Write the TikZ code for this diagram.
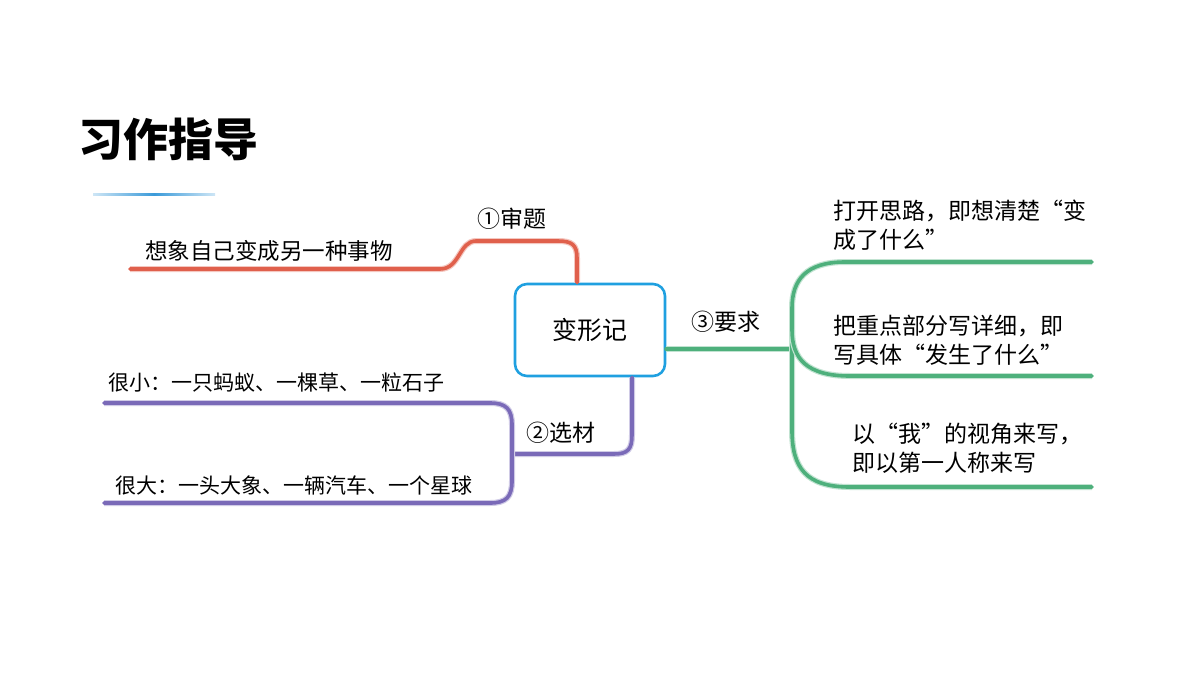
\documentclass[tikz,border=0pt]{standalone}
\usepackage{fontspec}
\setmainfont{Noto Sans CJK SC}
\usetikzlibrary{calc}
\definecolor{redb}{HTML}{E0604C}
\definecolor{purb}{HTML}{7A6AB8}
\definecolor{grnb}{HTML}{4EB07C}
\definecolor{nodeb}{HTML}{1FA0E0}
\definecolor{ttl}{HTML}{3A9AD9}
\tikzset{
  redl/.style={draw=redb, line width=3.6pt, line cap=round, preaction={draw=redb!35, line width=6pt}},
  purl/.style={draw=purb, line width=3.6pt, line cap=round, preaction={draw=purb!35, line width=6pt}},
  grnl/.style={draw=grnb, line width=3.6pt, line cap=round, preaction={draw=grnb!35, line width=6pt}},
  lbl/.style={inner sep=0pt, font=\fontsize{23}{27}\selectfont},
  txt/.style={inner sep=0pt, anchor=west, font=\fontsize{21}{25}\selectfont},
  rtxt/.style={inner sep=0pt, anchor=west, align=left, font=\fontsize{23}{28.5}\selectfont},
}
\begin{document}
\begin{tikzpicture}[x=1pt,y=-1pt]
\useasboundingbox (0,0) rectangle (1200,675);
% title
\node[inner sep=0pt, anchor=west, font=\fontsize{45}{50}\selectfont\bfseries] (title) at (78,139) {习作指导};
\shade[left color=ttl!25, right color=ttl!25, middle color=ttl] (93,193.8) rectangle (215,195.8);
% central node
\node[draw=nodeb, line width=2.6pt, rounded corners=12pt, minimum width=150pt, minimum height=92pt, inner sep=0pt, font=\fontsize{25}{30}\selectfont] (c) at (590,330) {变形记};
% red branch
\coordinate (r0) at ($(c.north)+(-13,0)$);
\coordinate (rend) at (130,269);
\draw[redl] (r0) -- (577,258) .. controls (577,245) and (572,241) .. (558,241) -- (476,241) .. controls (459,241) and (460,269) .. (440,269) -- (rend);
\node[lbl] (l1) at (512,219) {①审题};
\node[txt, font=\fontsize{22.5}{26}\selectfont] (t1) at (145,251) {想象自己变成另一种事物};
% purple branch
\coordinate (p0) at ($(c.south)+(42,0)$);
\coordinate (pj) at (512,454);
\coordinate (pt) at (104,403);
\coordinate (pb) at (104,503);
\draw[purl] (p0) -- (632,435) .. controls (632,449) and (628,454) .. (614,454) -- (pj);
\draw[purl] (pt) -- (490,403) .. controls (506,403) and (512,409) .. (512,425) -- (512,481) .. controls (512,497) and (506,503) .. (490,503) -- (pb);
\node[lbl] (l2) at (561,433) {②选材};
\node[txt] (t2) at (108,383) {很小：一只蚂蚁、一棵草、一粒石子};
\node[txt] (t3) at (115,485) {很大：一头大象、一辆汽车、一个星球};
% green branch
\coordinate (gj) at (792,349);
\coordinate (g1) at (1092,262);
\coordinate (g2) at (1092,376);
\coordinate (g3) at (1092,487);
\draw[grnl, line width=4.2pt] (c.east |- gj) -- (gj);
\draw[grnl] (g1) -- (845,262) .. controls (806,262) and (792,280) .. (792,308) -- (792,430) .. controls (792,468) and (806,487) .. (850,487) -- (g3);
\draw[grnl] (792,330) .. controls (792,358) and (806,376) .. (850,376) -- (g2);
\node[lbl] (l3) at (726,322) {③要求};
\node[rtxt] (r1) at (833,225) {打开思路，即想清楚“变\\成了什么”};
\node[rtxt] (r2) at (833,340) {把重点部分写详细，即\\写具体“发生了什么”};
\node[rtxt] (r3) at (852,448) {以“我”的视角来写，\\即以第一人称来写};
\end{tikzpicture}
\end{document}
